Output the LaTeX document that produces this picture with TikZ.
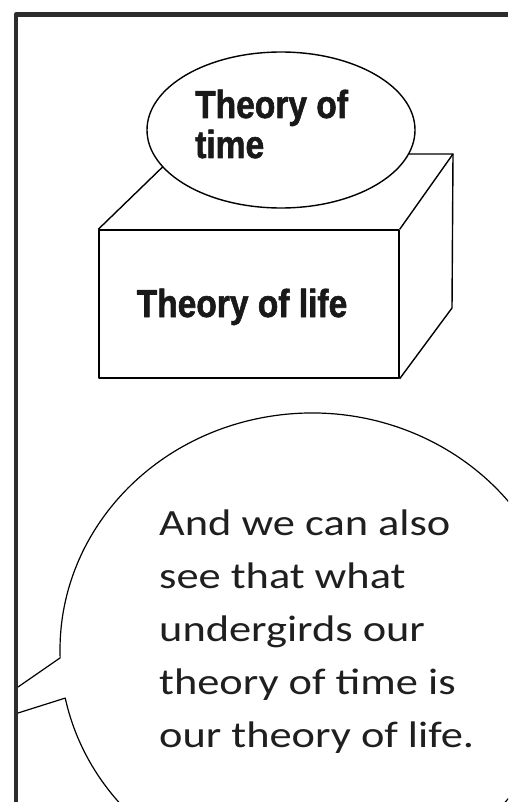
\documentclass[tikz,border=0pt]{standalone}
\usepackage{fontspec}
\setmainfont{Carlito}[FakeStretch=1.2]
\newfontfamily\headfont[FakeStretch=0.86,BoldFeatures={FakeBold=1.5}]{Liberation Sans}
\usepackage{tikz}
\usetikzlibrary{calc,shapes.geometric}
\definecolor{framegray}{RGB}{45,45,45}

\begin{document}
\begin{tikzpicture}[x=1pt,y=1pt,line join=round,every node/.style={inner sep=0pt}]
\tikzstyle{sketch}=[draw=black,line width=1.4pt]
\tikzstyle{headtext}=[font=\headfont\bfseries\fontsize{39}{40}\selectfont,align=left,text=black!90]
\tikzstyle{saytext}=[font=\fontsize{37}{53}\selectfont,align=left,text=black!88]
\useasboundingbox (0,0) rectangle (508,-802);
\clip (0,0) rectangle (508,-802);
% panel frame
\coordinate (frametop) at (508,-14.5);
\coordinate (framecorner) at (16,-14.5);
\coordinate (framebottom) at (16,-802);
\draw[framegray,line width=4.5pt] (frametop) -- (framecorner) -- (framebottom);
% box with the theory of life
\node[sketch,rectangle,minimum width=300,minimum height=148] (lifebox) at (249,-304) {};
\coordinate (backleft) at (176,-154);
\coordinate (backright) at (453,-154);
\coordinate (backbottom) at (452,-308);
\draw[sketch] (lifebox.north west) -- (backleft) -- (backright) -- (lifebox.north east);
\draw[sketch] (backright) -- (backbottom) -- (lifebox.south east);
\node[headtext,anchor=base] (lifelabel) at (242,-317) {Theory of life};
% oval with the theory of time
\node[sketch,ellipse,fill=white,minimum width=268,minimum height=156] (timeoval) at (281,-130) {};
\node[headtext,anchor=base west] (timelabel) at (195,-158) {Theory of\\time};
% speech bubble
\coordinate (bubblec) at (312,-650);
\coordinate (tailtop) at (18,-687);
\coordinate (tailbot) at (18,-713);
\coordinate (jointbot) at ($(bubblec)+(191.7:252 and 237)$);
\draw[sketch,line width=1.2pt] (tailbot) -- (jointbot)
  arc[start angle=191.7,end angle=541.9,x radius=252,y radius=237] -- (tailtop);
\node[saytext,anchor=base west] (saylabel) at (159,-747) {And we can also\\see that what\\undergirds our\\theory of time is\\our theory of life.};
\end{tikzpicture}
\end{document}
